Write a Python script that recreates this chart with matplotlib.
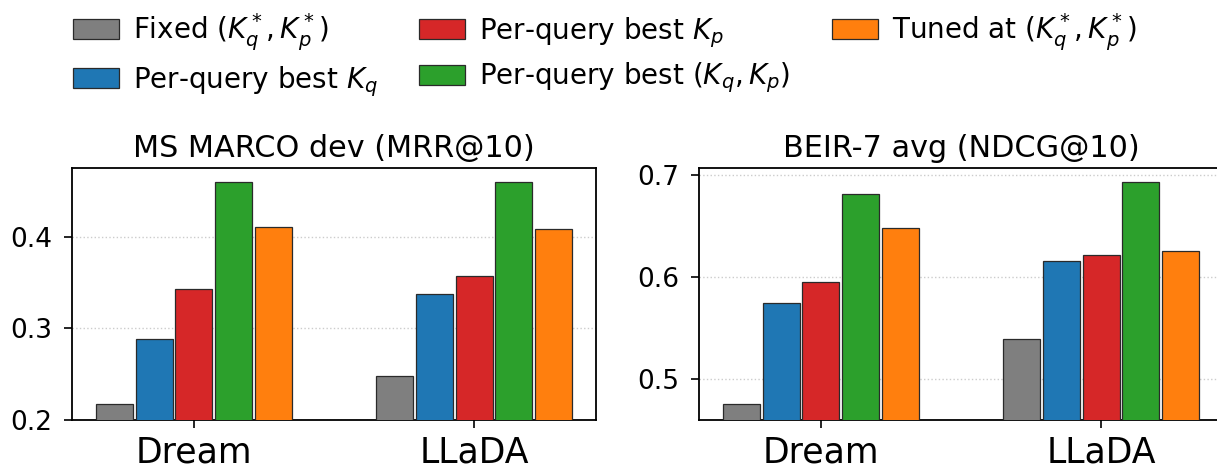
import matplotlib
matplotlib.use("Agg")
import matplotlib.pyplot as plt
import numpy as np

models = ["Dream", "LLaDA"]
series = [
    r"Fixed $(K_q^*, K_p^*)$",
    r"Per-query best $K_q$",
    r"Per-query best $K_p$",
    r"Per-query best $(K_q, K_p)$",
    r"Tuned at $(K_q^*, K_p^*)$",
]
colors = ["#7f7f7f", "#1f77b4", "#d62728", "#2ca02c", "#ff7f0e"]

# rows follow the series order, columns follow models
msmarco = [
    [0.218, 0.248],
    [0.288, 0.338],
    [0.343, 0.357],
    [0.460, 0.460],
    [0.411, 0.408],
]
beir = [
    [0.476, 0.539],
    [0.575, 0.616],
    [0.595, 0.622],
    [0.682, 0.693],
    [0.648, 0.626],
]

panels = [
    ("MS MARCO dev (MRR@10)", msmarco, (0.2, 0.475), [0.2, 0.3, 0.4]),
    ("BEIR-7 avg (NDCG@10)", beir, (0.46, 0.707), [0.5, 0.6, 0.7]),
]

fig = plt.figure(figsize=(12.17, 4.67), dpi=100)
ax_pos = [[0.0592, 0.1006, 0.4306, 0.5396], [0.5744, 0.1006, 0.4306, 0.5396]]

x = np.arange(len(models))
step = 0.142
bw = 0.132

for pos, (title, data, ylim, yticks) in zip(ax_pos, panels):
    ax = fig.add_axes(pos)
    for i, vals in enumerate(data):
        ax.bar(x + (i - 2) * step, vals, bw, color=colors[i],
               edgecolor="#2a2a2a", linewidth=0.9, label=series[i], zorder=3)
    ax.set_ylim(*ylim)
    ax.set_yticks(yticks)
    ax.set_yticklabels([f"{t:.1f}" for t in yticks])
    ax.set_xticks(x)
    ax.set_xticklabels(models)
    ax.tick_params(axis="x", labelsize=25, length=6, width=1.2, pad=5)
    ax.tick_params(axis="y", labelsize=19, length=6, width=1.2, pad=8)
    ax.grid(axis="y", linestyle=":", color="#cccccc", linewidth=1.0, zorder=0)
    for sp in ax.spines.values():
        sp.set_linewidth(1.3)
    ax.set_title(title, fontsize=21.8, pad=8)

handles, labels = ax.get_legend_handles_labels()
fig.legend(handles, labels, ncol=3, loc="upper left", bbox_to_anchor=(0.051, 1.0),
           frameon=False, fontsize=20, handlelength=1.65, columnspacing=1.5,
           handletextpad=0.5, labelspacing=0.4, borderaxespad=0.0)

fig.savefig("out.png", dpi=100)
